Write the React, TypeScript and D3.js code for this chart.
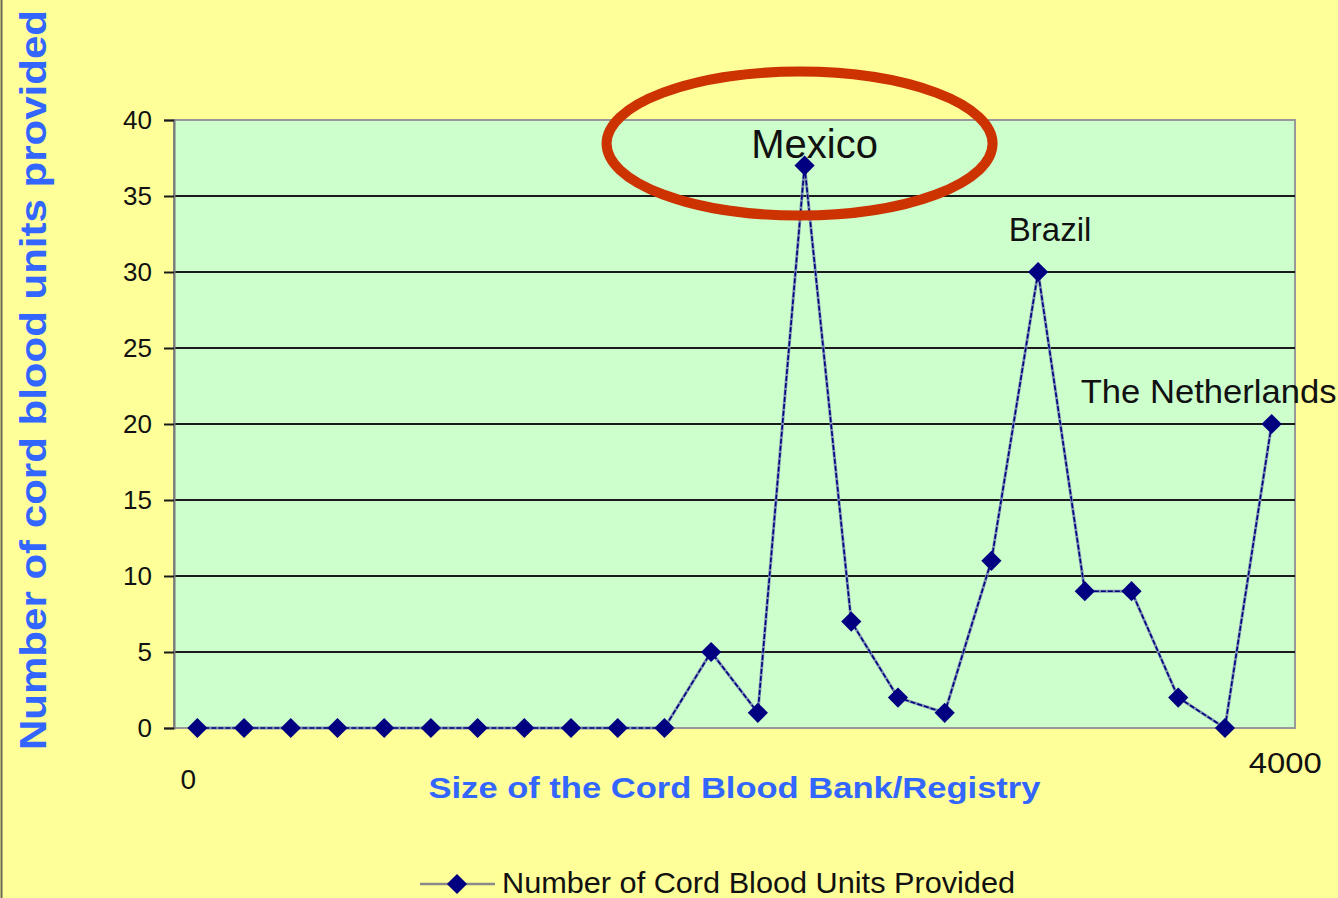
import React, { useRef, useEffect } from 'react';
import * as d3 from 'd3';

// one point per bank/registry, ordered by size
const categories = d3.range(24).map((i) => `Bank ${i + 1}`);
const unitsProvided = [0, 0, 0, 0, 0, 0, 0, 0, 0, 0, 0, 5, 1, 37, 7, 2, 1, 11, 30, 9, 9, 2, 0, 20];
const yTicks = [0, 5, 10, 15, 20, 25, 30, 35, 40];
const xEndLabels = ['0', '4000'];
const annotations = [
    { index: 13, value: 37, text: 'Mexico' },
    { index: 18, value: 30, text: 'Brazil' },
    { index: 23, value: 20, text: 'The Netherlands' },
];
const seriesName = 'Number of Cord Blood Units Provided';

const W = 1338;
const H = 898;

const App = () => {
    const svgRef = useRef<SVGSVGElement>(null);

    useEffect(() => {
        const margin = { top: 120, right: 43, bottom: 170, left: 174 };
        const font = 'Liberation Sans, Arial, sans-serif';

        const svg = d3.select(svgRef.current);
        svg.selectAll('*').remove();

        svg.append('rect').attr('width', W).attr('height', H).attr('fill', '#FFFF99');
        svg.append('line')
            .attr('x1', 1.5).attr('x2', 1.5).attr('y1', 0).attr('y2', H)
            .attr('stroke', '#6b6b55').attr('stroke-width', 2);

        const x = d3.scaleBand()
            .domain(categories)
            .range([margin.left, W - margin.right]);

        const y = d3.scaleLinear()
            .domain([0, 40])
            .range([H - margin.bottom, margin.top]);

        const cx = (i: number) => (x(categories[i]) as number) + x.bandwidth() / 2;

        // plot area
        svg.append('rect')
            .attr('x', margin.left)
            .attr('y', margin.top)
            .attr('width', W - margin.left - margin.right)
            .attr('height', H - margin.top - margin.bottom)
            .attr('fill', '#CCFFCC')
            .attr('stroke', '#999999')
            .attr('stroke-width', 2);

        // gridlines
        svg.append('g')
            .selectAll('line')
            .data(yTicks.filter((t) => t > 0 && t < 40))
            .enter()
            .append('line')
            .attr('x1', margin.left)
            .attr('x2', W - margin.right)
            .attr('y1', (d) => y(d))
            .attr('y2', (d) => y(d))
            .attr('stroke', '#1a1a1a')
            .attr('stroke-width', 2);

        // y axis
        const yAxis = svg.append('g')
            .attr('transform', `translate(${margin.left},0)`)
            .call(d3.axisLeft(y).tickValues(yTicks).tickSize(10).tickPadding(12));
        yAxis.select('.domain').attr('stroke', '#777777').attr('stroke-width', 2);
        yAxis.selectAll('.tick line').attr('stroke', '#1a1a1a').attr('stroke-width', 2);
        yAxis.selectAll('.tick text')
            .attr('font-family', font)
            .attr('font-size', 26)
            .attr('fill', '#111');

        // x end labels
        svg.append('text')
            .attr('x', cx(0) - 9)
            .attr('y', H - margin.bottom + 61)
            .attr('text-anchor', 'middle')
            .attr('font-family', font)
            .attr('font-size', 28)
            .attr('fill', '#111')
            .text(xEndLabels[0]);
        svg.append('text')
            .attr('x', cx(23) - 23)
            .attr('y', H - margin.bottom + 45)
            .attr('font-family', font)
            .attr('font-size', 29)
            .attr('fill', '#111')
            .attr('textLength', 73)
            .attr('lengthAdjust', 'spacingAndGlyphs')
            .text(xEndLabels[1]);

        // series line
        const line = d3.line<number>()
            .x((d, i) => cx(i))
            .y((d) => y(d));

        svg.append('path')
            .datum(unitsProvided)
            .attr('d', line)
            .attr('fill', 'none')
            .attr('stroke', '#7f94b0')
            .attr('stroke-width', 3);
        svg.append('path')
            .datum(unitsProvided)
            .attr('d', line)
            .attr('fill', 'none')
            .attr('stroke', '#000080')
            .attr('stroke-width', 1.6)
            .attr('stroke-dasharray', '5,2');

        const diamond = d3.symbol().type(d3.symbolDiamond2).size(260);
        svg.append('g')
            .selectAll('path')
            .data(unitsProvided)
            .enter()
            .append('path')
            .attr('d', diamond)
            .attr('transform', (d, i) => `translate(${cx(i)},${y(d)})`)
            .attr('fill', '#000080');

        // country labels
        svg.append('g')
            .selectAll('text')
            .data(annotations)
            .enter()
            .append('text')
            .attr('x', (d) => (d.index === 23 ? cx(d.index) - 191 : cx(d.index) + (d.index === 13 ? 10 : 12)))
            .attr('y', (d) => y(d.value) - (d.index === 13 ? 8 : d.index === 23 ? 21 : 31))
            .attr('text-anchor', (d) => (d.index === 23 ? 'start' : 'middle'))
            .attr('font-family', font)
            .attr('font-size', (d) => (d.index === 13 ? 40 : 33))
            .attr('fill', '#111')
            .each(function (d) {
                if (d.index === 23) {
                    d3.select(this).attr('textLength', 256).attr('lengthAdjust', 'spacingAndGlyphs');
                }
            })
            .text((d) => d.text);

        // red ellipse around Mexico
        svg.append('ellipse')
            .attr('cx', cx(13) - 5)
            .attr('cy', y(37) - 22)
            .attr('rx', 193)
            .attr('ry', 72)
            .attr('fill', 'none')
            .attr('stroke', '#CC3300')
            .attr('stroke-width', 10);

        // axis titles
        svg.append('text')
            .attr('x', (margin.left + W - margin.right) / 2)
            .attr('y', H - margin.bottom + 70)
            .attr('text-anchor', 'middle')
            .attr('font-family', font)
            .attr('font-weight', 'bold')
            .attr('font-size', 30)
            .attr('fill', '#3366FF')
            .attr('textLength', 612)
            .attr('lengthAdjust', 'spacingAndGlyphs')
            .text('Size of the Cord Blood Bank/Registry');

        svg.append('text')
            .attr('transform', `translate(46,380) rotate(-90)`)
            .attr('text-anchor', 'middle')
            .attr('font-family', font)
            .attr('font-weight', 'bold')
            .attr('font-size', 36)
            .attr('fill', '#3366FF')
            .attr('textLength', 740)
            .attr('lengthAdjust', 'spacingAndGlyphs')
            .text('Number of cord blood units provided');

        // legend
        const legend = svg.append('g').attr('transform', 'translate(420,884)');
        legend.append('line')
            .attr('x1', 0).attr('x2', 75)
            .attr('stroke', '#8a8a8a').attr('stroke-width', 2.5);
        legend.append('path')
            .attr('d', diamond)
            .attr('transform', 'translate(37,0)')
            .attr('fill', '#000080');
        legend.append('text')
            .attr('x', 82)
            .attr('y', 9)
            .attr('font-family', font)
            .attr('font-size', 29)
            .attr('fill', '#111')
            .attr('textLength', 513)
            .attr('lengthAdjust', 'spacingAndGlyphs')
            .text(seriesName);
    }, []);

    return (
        <svg
            ref={svgRef}
            width={W}
            height={H}
            style={{ position: 'absolute', left: 0, top: 0 }}
        ></svg>
    );
};

export default App;
